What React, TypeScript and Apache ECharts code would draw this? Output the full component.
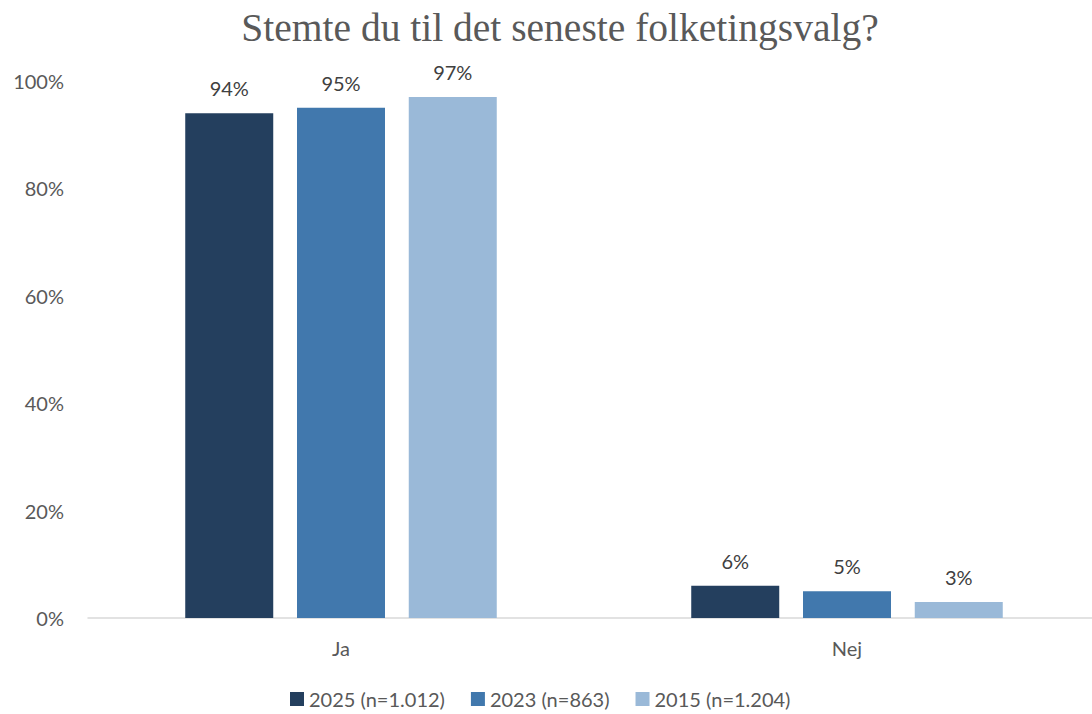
import React, { useEffect, useRef } from "react";
import * as echarts from "echarts";

const categories = ["Ja", "Nej"];
const seriesNames = ["2025 (n=1.012)", "2023 (n=863)", "2015 (n=1.204)"];
const values2025 = [94, 6];
const values2023 = [95, 5];
const values2015 = [97, 3];
const colors = ["#243F5E", "#4178AD", "#9AB9D8"];

export default function App() {
  const ref = useRef<HTMLDivElement>(null);
  useEffect(() => {
    if (!ref.current) return;
    const chart = echarts.init(ref.current, undefined, { renderer: "svg" });
    const data = [values2025, values2023, values2015];
    const font = "Lato, 'Open Sans', sans-serif";
    chart.setOption({
      animation: false,
      backgroundColor: "#ffffff",
      title: {
        text: "Stemte du til det seneste folketingsvalg?",
        left: 555,
        textAlign: "center",
        top: 3,
        textStyle: {
          fontFamily: "'Liberation Serif', 'DejaVu Serif', serif",
          fontWeight: "normal",
          fontSize: 39.5,
          color: "#595959",
        },
      },
      legend: {
        bottom: 0,
        left: 285,
        itemWidth: 14,
        itemHeight: 14,
        itemGap: 26,
        icon: "rect",
        textStyle: { fontFamily: font, fontSize: 20, color: "#595959" },
        data: seriesNames,
      },
      grid: { left: 88, right: 0, top: 81, bottom: 96 },
      xAxis: {
        type: "category",
        data: categories,
        axisLine: { lineStyle: { color: "#D9D9D9", width: 1.5 } },
        axisTick: { show: false },
        axisLabel: { fontFamily: font, fontSize: 20, color: "#595959", margin: 20 },
      },
      yAxis: {
        type: "value",
        min: 0,
        max: 100,
        interval: 20,
        splitLine: { show: false },
        axisLine: { show: false },
        axisTick: { show: false },
        axisLabel: {
          formatter: "{value}%",
          fontFamily: font,
          fontSize: 20,
          color: "#595959",
          margin: 24,
        },
      },
      series: seriesNames.map((name, i) => ({
        name,
        type: "bar",
        data: data[i],
        barWidth: 88,
        barGap: "27%",
        itemStyle: { color: colors[i] },
        label: {
          show: true,
          position: "top",
          distance: 15,
          formatter: "{c}%",
          fontFamily: font,
          fontSize: 20,
          color: "#404040",
        },
      })),
    });
    return () => chart.dispose();
  }, []);
  return (
    <div style={{ width: 1092, height: 714, position: "absolute", left: 0, top: 0, overflow: "hidden" }}>
      <div ref={ref} style={{ width: 1100, height: 714 }} />
    </div>
  );
}
